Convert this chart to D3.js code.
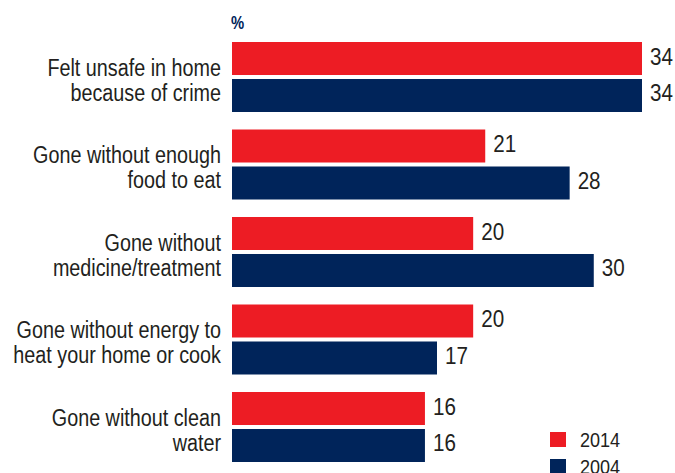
<!DOCTYPE html>
<html>
<head>
<meta charset="utf-8">
<script src="https://cdn.jsdelivr.net/npm/d3@7"></script>
<style>
  body { margin: 0; background: #fff; }
  text { font-family: "Liberation Sans", Arial, sans-serif; }
</style>
</head>
<body>
<div id="chart"></div>
<script>
// data
var categories = [
    ["Felt unsafe in home", "because of crime"],
    ["Gone without enough", "food to eat"],
    ["Gone without", "medicine/treatment"],
    ["Gone without energy to", "heat your home or cook"],
    ["Gone without clean", "water"]
];
var series = ["2014", "2004"];
var values2014 = [34, 21, 20, 20, 16];
var values2004 = [34, 28, 30, 17, 16];
var colors = ["#ed1c24", "#00245a"];

var width = 675, height = 473;
// the original uses a condensed face, squeeze Liberation Sans horizontally
var narrow = 0.86;

var svg = d3.select("#chart")
    .append("svg")
    .attr("width", width)
    .attr("height", height);

// x scale: 0 at left edge of bars
var x = d3.scaleLinear()
    .domain([0, 34])
    .range([232, 642]);

var keys = categories.map(function(d, i) { return "c" + i; });

// group positions
var y0 = d3.scaleBand()
    .domain(keys)
    .range([42, 462])
    .paddingInner(0.2)
    .paddingOuter(0);

// bars within a group
var y1 = d3.scaleBand()
    .domain(series)
    .range([0, y0.bandwidth()])
    .paddingInner(0.108);

var rows = keys.map(function(k, i) {
    return { key: k, label: categories[i], vals: [values2014[i], values2004[i]] };
});

var groups = svg.selectAll("g.group")
    .data(rows)
    .enter()
    .append("g")
    .attr("class", "group")
    .attr("transform", function(d) { return "translate(0," + y0(d.key) + ")"; });

groups.selectAll("rect")
    .data(function(d) { return d.vals.map(function(v, j) { return { s: series[j], v: v, j: j }; }); })
    .enter()
    .append("rect")
    .attr("x", x(0))
    .attr("y", function(d) { return y1(d.s); })
    .attr("width", function(d) { return x(d.v) - x(0); })
    .attr("height", y1.bandwidth())
    .attr("fill", function(d) { return colors[d.j]; });

// value labels
groups.selectAll("text.val")
    .data(function(d) { return d.vals.map(function(v, j) { return { s: series[j], v: v }; }); })
    .enter()
    .append("text")
    .attr("class", "val")
    .attr("transform", function(d) {
        return "translate(" + (x(d.v) + 8) + "," + (y1(d.s) + y1.bandwidth() / 2 + 6) + ") scale(" + narrow + ",1)";
    })
    .attr("font-size", 24)
    .attr("fill", "#231f20")
    .text(function(d) { return d.v; });

// category labels (two lines, centred on group)
groups.each(function(d) {
    var g = d3.select(this);
    d.label.forEach(function(line, i) {
        g.append("text")
            .attr("transform", "translate(221," + (y0.bandwidth() / 2 + (i - 0.5) * 25 + 11) + ") scale(" + narrow + ",1)")
            .attr("text-anchor", "end")
            .attr("font-size", 23)
            .attr("fill", "#231f20")
            .text(line);
    });
});

// unit label
svg.append("text")
    .attr("transform", "translate(231,29) scale(0.78,1)")
    .attr("font-size", 19)
    .attr("font-weight", "bold")
    .attr("fill", "#00245a")
    .text("%");

// legend
var legend = svg.selectAll("g.legend")
    .data(series)
    .enter()
    .append("g")
    .attr("class", "legend")
    .attr("transform", function(d, i) { return "translate(550," + (432 + i * 27) + ")"; });

legend.append("rect")
    .attr("width", 16)
    .attr("height", 15)
    .attr("fill", function(d, i) { return colors[i]; });

legend.append("text")
    .attr("transform", "translate(30,15) scale(" + narrow + ",1)")
    .attr("font-size", 21)
    .attr("fill", "#231f20")
    .text(function(d) { return d; });
</script>
</body>
</html>
